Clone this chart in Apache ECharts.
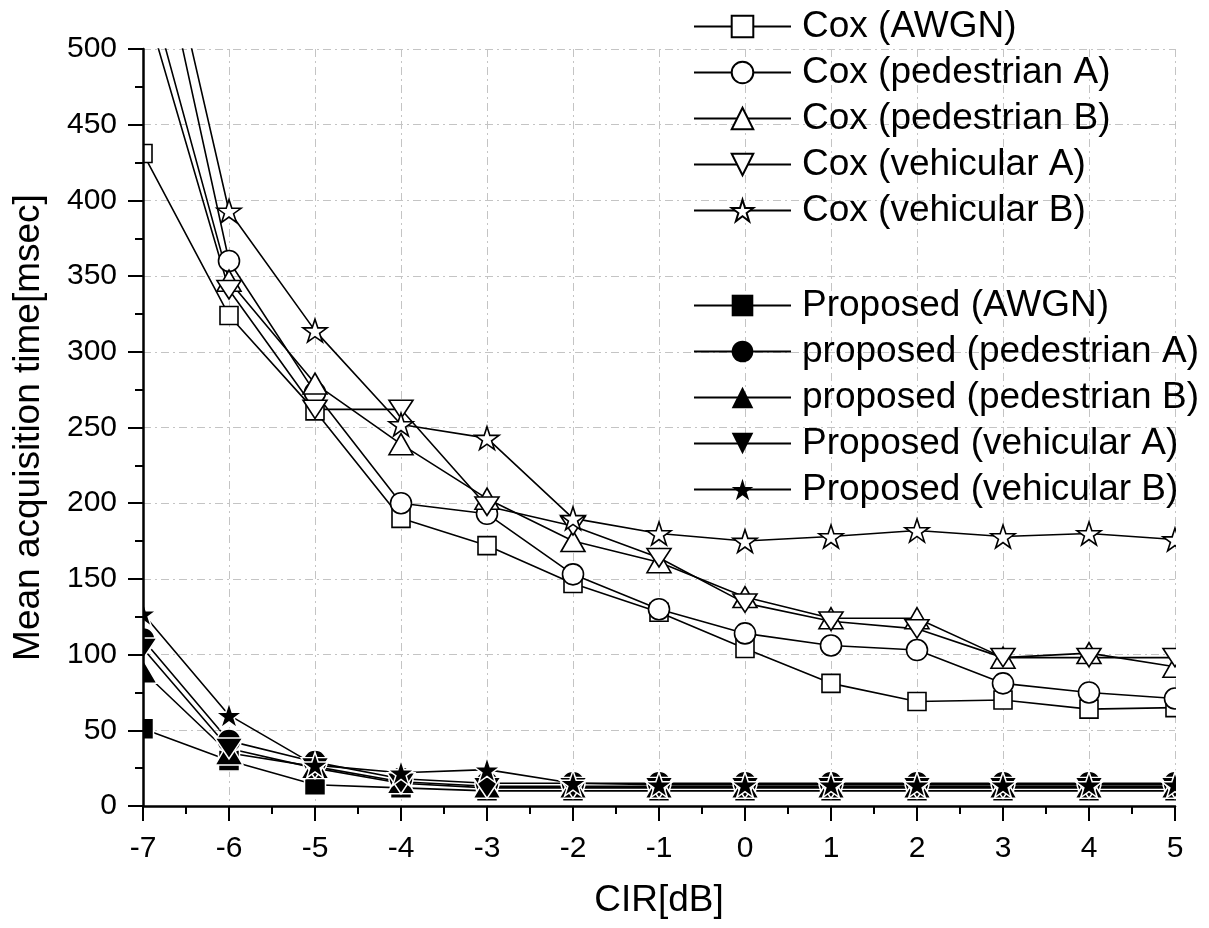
<!DOCTYPE html>
<html>
<head>
<meta charset="utf-8">
<script src="https://cdn.jsdelivr.net/npm/echarts@6/dist/echarts.min.js"></script>
<style>
  html, body { margin: 0; padding: 0; background: #fff; }
  #chart { width: 1209px; height: 928px; }
</style>
</head>
<body>
<div id="chart"></div>
<script>
// CIR values on the x axis
var cir = [-7, -6, -5, -4, -3, -2, -1, 0, 1, 2, 3, 4, 5];

// Cox (hollow markers)
var coxAwgn = [431, 324, 261, 190, 172, 147, 128, 104, 81, 69, 70, 64, 65];
var coxPedA = [620, 360, 273, 200, 193, 153, 130, 114, 106, 103, 81, 75, 71];
var coxPedB = [555, 347, 279, 239, 203, 175, 161, 138, 124, 124, 98, 101, 92];
var coxVehA = [535, 341, 262, 262, 198, 185, 164, 134, 122, 117, 98, 98, 98];
var coxVehB = [640, 393, 314, 252, 243, 190, 180, 175, 178, 182, 178, 180, 176];

// Proposed (filled markers)
var propAwgn = [51, 30, 14, 12, 10, 10, 10, 10, 10, 10, 10, 10, 10];
var propPedA = [110, 43, 29, 18, 15, 15, 15, 15, 15, 15, 15, 15, 15];
var propPedB = [89, 35, 26, 16, 13, 13, 13, 13, 13, 13, 13, 13, 13];
var propVehA = [104, 38, 25, 15, 12, 12, 12, 12, 12, 12, 12, 12, 12];
var propVehB = [127, 60, 27, 22, 24, 15, 14, 14, 14, 14, 14, 14, 14];

var coxNames = ['Cox (AWGN)', 'Cox (pedestrian A)', 'Cox (pedestrian B)', 'Cox (vehicular A)', 'Cox (vehicular B)'];
var propNames = ['Proposed (AWGN)', 'proposed (pedestrian A)', 'proposed (pedestrian B)', 'Proposed (vehicular A)', 'Proposed (vehicular B)'];

var starPath = 'path://M50 0 L61.23 34.55 L97.55 34.55 L68.17 55.9 L79.39 90.45 L50 69.1 L20.61 90.45 L31.83 55.9 L2.45 34.55 L38.77 34.55 Z';
var downTri = 'path://M0 0 L24 0 L12 21 Z';

// marker shape + size, hollow / filled
var shapes = [
    { symbol: 'rect', hollow: 18, filled: 21 },
    { symbol: 'circle', hollow: 21, filled: 24 },
    { symbol: 'triangle', hollow: [24, 21], filled: [28, 24] },
    { symbol: downTri, hollow: [24, 21], filled: [28, 24] },
    { symbol: starPath, hollow: 24, filled: 27 }
];

function pairs(ys) {
    return cir.map(function (x, i) { return [x, ys[i]]; });
}

function makeSeries(name, ys, k, filled) {
    return {
        name: name,
        type: 'line',
        data: pairs(ys),
        symbol: shapes[k].symbol,
        symbolSize: filled ? shapes[k].filled : shapes[k].hollow,
        symbolKeepAspect: true,
        showAllSymbol: true,
        clip: true,
        z: 2,
        lineStyle: { color: '#000', width: 1.6 },
        itemStyle: filled
            ? { color: '#000', borderColor: '#fff', borderWidth: 1.5 }
            : { color: '#fff', borderColor: '#000', borderWidth: 1.6 },
        emphasis: { disabled: true }
    };
}

var series = [
    makeSeries(coxNames[0], coxAwgn, 0, false),
    makeSeries(coxNames[1], coxPedA, 1, false),
    makeSeries(coxNames[2], coxPedB, 2, false),
    makeSeries(coxNames[3], coxVehA, 3, false),
    makeSeries(coxNames[4], coxVehB, 4, false),
    makeSeries(propNames[0], propAwgn, 0, true),
    makeSeries(propNames[1], propPedA, 1, true),
    makeSeries(propNames[2], propPedB, 2, true),
    makeSeries(propNames[3], propVehA, 3, true),
    makeSeries(propNames[4], propVehB, 4, true)
];

var font = 'Arial, "Liberation Sans", sans-serif';

var legendBase = {
    orient: 'vertical',
    left: 688,
    itemWidth: 97,
    itemHeight: 27,
    itemGap: 9,
    z: 20,
    selectedMode: false,
    textStyle: {
        fontFamily: font,
        fontSize: 37,
        lineHeight: 37,
        color: '#000',
        padding: [0, 0, 0, 6]
    }
};

var gridLine = { show: true, lineStyle: { color: '#c4c4c4', width: 1, type: [8, 4, 2, 4] } };
var noShow = { show: false };

var myChart = echarts.init(document.getElementById('chart'), null, { renderer: 'canvas' });

var option = {
    animation: false,
    backgroundColor: '#fff',
    grid: {
        left: 143,
        right: 34,
        top: 49,
        bottom: 122,
        containLabel: false,
        outerBoundsMode: 'none'
    },
    legend: [
        Object.assign({}, legendBase, { top: 3, data: coxNames }),
        // filled icons drawn without the white halo
        Object.assign({}, legendBase, { top: 282, data: propNames, itemStyle: { borderWidth: 0 } })
    ],
    // white bands so the edge markers look cut by the frame
    graphic: [
        { type: 'rect', z: 5, shape: { x: 100, y: 40, width: 43, height: 766 }, style: { fill: '#fff' }, silent: true },
        { type: 'rect', z: 5, shape: { x: 1176, y: 505, width: 33, height: 301 }, style: { fill: '#fff' }, silent: true }
    ],
    xAxis: [
        {
            // grid lines only, under the data
            type: 'value', min: -7, max: 5, interval: 1, z: 0,
            axisLine: noShow, axisTick: noShow, axisLabel: noShow,
            splitLine: gridLine
        },
        {
            // frame, ticks, labels over the data
            type: 'value', min: -7, max: 5, interval: 1, z: 10,
            position: 'bottom',
            name: 'CIR[dB]',
            nameLocation: 'middle',
            nameGap: 76,
            nameMoveOverlap: false,
            nameTextStyle: { fontFamily: font, fontSize: 37, color: '#000' },
            axisLine: { show: true, onZero: false, lineStyle: { color: '#000', width: 2.5 } },
            axisTick: { show: true, length: 15, lineStyle: { color: '#000', width: 2 } },
            minorTick: { show: true, splitNumber: 2, length: 8, lineStyle: { color: '#000', width: 2 } },
            axisLabel: { fontFamily: font, fontSize: 30, color: '#000', margin: 28 },
            splitLine: noShow
        }
    ],
    yAxis: [
        {
            type: 'value', min: 0, max: 500, interval: 50, z: 0,
            axisLine: noShow, axisTick: noShow, axisLabel: noShow,
            splitLine: gridLine
        },
        {
            type: 'value', min: 0, max: 500, interval: 50, z: 10,
            position: 'left',
            name: 'Mean acquisition time[msec]',
            nameLocation: 'middle',
            nameGap: 96,
            nameMoveOverlap: false,
            nameTextStyle: { fontFamily: font, fontSize: 37, color: '#000' },
            axisLine: { show: true, onZero: false, lineStyle: { color: '#000', width: 2.5 } },
            axisTick: { show: true, length: 15, lineStyle: { color: '#000', width: 2 } },
            minorTick: { show: true, splitNumber: 2, length: 8, lineStyle: { color: '#000', width: 2 } },
            axisLabel: { fontFamily: font, fontSize: 30, color: '#000', margin: 26 },
            splitLine: noShow
        }
    ],
    series: series
};

myChart.setOption(option);
</script>
</body>
</html>
